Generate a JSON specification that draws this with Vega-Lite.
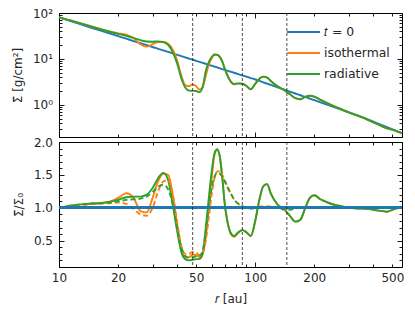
{
"$schema": "https://vega.github.io/schema/vega-lite/v6.json",
"padding": {"left": 11, "top": 7, "right": 11, "bottom": 8},
"background": "white",
"bounds": "flush",
"config": {
  "font": "DejaVu Sans",
  "view": {"stroke": null},
  "axis": {"labelFont": "DejaVu Sans", "labelFontSize": 12, "labelColor": "#262626", "titleFont": "DejaVu Sans", "titleFontSize": 12, "titleFontWeight": "normal", "titleColor": "#262626", "domainColor": "#000", "domainWidth": 1, "tickColor": "#000", "tickWidth": 0.9, "grid": false, "labelOverlap": false, "labelFlush": false},
  "line": {"strokeWidth": 1.9, "interpolate": "monotone", "clip": true}
},
"datasets": {
  "prof": [
{"r":10,"O":1.00,"G":1.00,"OD":1.00,"GD":1.00,"SO":80,"SG":80,"S":80},
{"r":12,"O":1.04,"G":1.04,"OD":1.03,"GD":1.04,"SO":65.0,"SG":65.0,"S":62.5},
{"r":14,"O":1.06,"G":1.06,"OD":1.05,"GD":1.06,"SO":53.8,"SG":53.8,"S":50.8},
{"r":16,"O":1.07,"G":1.07,"OD":1.06,"GD":1.07,"SO":45.4,"SG":45.4,"S":42.4},
{"r":18,"O":1.09,"G":1.09,"OD":1.07,"GD":1.08,"SO":39.5,"SG":39.5,"S":36.2},
{"r":20,"O":1.15,"G":1.12,"OD":1.08,"GD":1.10,"SO":36.1,"SG":35.2,"S":31.4},
{"r":22,"O":1.22,"G":1.16,"OD":1.06,"GD":1.12,"SO":33.7,"SG":32.0,"S":27.6},
{"r":24,"O":1.15,"G":1.17,"OD":0.98,"GD":1.13,"SO":28.2,"SG":28.7,"S":24.5},
{"r":26,"O":0.95,"G":1.17,"OD":0.90,"GD":1.14,"SO":20.9,"SG":25.7,"S":22.0},
{"r":28,"O":0.93,"G":1.20,"OD":0.88,"GD":1.17,"SO":18.5,"SG":23.9,"S":19.9},
{"r":30,"O":1.15,"G":1.30,"OD":1.00,"GD":1.24,"SO":20.9,"SG":23.7,"S":18.2},
{"r":32,"O":1.40,"G":1.45,"OD":1.25,"GD":1.32,"SO":23.2,"SG":24.1,"S":16.6},
{"r":34,"O":1.52,"G":1.53,"OD":1.40,"GD":1.35,"SO":23.3,"SG":23.4,"S":15.3},
{"r":36,"O":1.50,"G":1.42,"OD":1.42,"GD":1.28,"SO":21.3,"SG":20.2,"S":14.2},
{"r":38,"O":1.20,"G":1.05,"OD":1.20,"GD":1.05,"SO":15.8,"SG":13.9,"S":13.2},
{"r":40,"O":0.75,"G":0.65,"OD":0.78,"GD":0.70,"SO":9.23,"SG":8.0,"S":12.3},
{"r":42,"O":0.38,"G":0.33,"OD":0.42,"GD":0.40,"SO":4.37,"SG":3.80,"S":11.5},
{"r":44,"O":0.25,"G":0.22,"OD":0.30,"GD":0.27,"SO":2.70,"SG":2.38,"S":10.8},
{"r":46,"O":0.25,"G":0.20,"OD":0.30,"GD":0.24,"SO":2.55,"SG":2.04,"S":10.2},
{"r":48,"O":0.29,"G":0.21,"OD":0.33,"GD":0.25,"SO":2.79,"SG":2.02,"S":9.63},
{"r":50,"O":0.28,"G":0.22,"OD":0.32,"GD":0.26,"SO":2.55,"SG":2.00,"S":9.11},
{"r":52,"O":0.25,"G":0.22,"OD":0.28,"GD":0.27,"SO":2.16,"SG":1.90,"S":8.64},
{"r":54,"O":0.30,"G":0.30,"OD":0.32,"GD":0.35,"SO":2.46,"SG":2.46,"S":8.21},
{"r":56,"O":0.55,"G":0.70,"OD":0.50,"GD":0.65,"SO":4.30,"SG":5.47,"S":7.82},
{"r":58,"O":1.00,"G":1.15,"OD":0.85,"GD":1.00,"SO":7.45,"SG":8.57,"S":7.45},
{"r":60,"O":1.45,"G":1.55,"OD":1.20,"GD":1.30,"SO":10.3,"SG":11.0,"S":7.12},
{"r":62,"O":1.80,"G":1.83,"OD":1.45,"GD":1.47,"SO":12.3,"SG":12.5,"S":6.81},
{"r":64,"O":1.88,"G":1.89,"OD":1.55,"GD":1.53,"SO":12.3,"SG":12.3,"S":6.53},
{"r":66,"O":1.78,"G":1.78,"OD":1.56,"GD":1.52,"SO":11.1,"SG":11.1,"S":6.26},
{"r":68,"O":1.45,"G":1.45,"OD":1.50,"GD":1.47,"SO":8.71,"SG":8.71,"S":6.01},
{"r":70,"O":1.05,"G":1.05,"OD":1.42,"GD":1.40,"SO":6.07,"SG":6.07,"S":5.78},
{"r":72,"O":0.82,"G":0.80,"OD":1.33,"GD":1.32,"SO":4.57,"SG":4.46,"S":5.57},
{"r":75,"O":0.60,"G":0.62,"OD":1.22,"GD":1.22,"SO":3.16,"SG":3.27,"S":5.27},
{"r":78,"O":0.56,"G":0.57,"OD":1.13,"GD":1.13,"SO":2.80,"SG":2.85,"S":5.00},
{"r":82,"O":0.62,"G":0.63,"OD":1.06,"GD":1.06,"SO":2.90,"SG":2.94,"S":4.67},
{"r":86,"O":0.66,"G":0.66,"OD":1.02,"GD":1.02,"SO":2.89,"SG":2.89,"S":4.38},
{"r":90,"O":0.63,"G":0.63,"OD":1.01,"GD":1.00,"SO":2.60,"SG":2.60,"S":4.12},
{"r":95,"O":0.57,"G":0.57,"OD":1.00,"GD":0.99,"SO":2.18,"SG":2.18,"S":3.83},
{"r":100,"O":0.80,"G":0.80,"OD":1.01,"GD":0.99,"SO":2.86,"SG":2.86,"S":3.57},
{"r":105,"O":1.12,"G":1.12,"OD":1.02,"GD":1.00,"SO":3.72,"SG":3.72,"S":3.32},
{"r":110,"O":1.33,"G":1.33,"OD":1.02,"GD":1.01,"SO":4.12,"SG":4.12,"S":3.10},
{"r":115,"O":1.36,"G":1.36,"OD":1.02,"GD":1.01,"SO":3.94,"SG":3.94,"S":2.90},
{"r":120,"O":1.22,"G":1.22,"OD":1.02,"GD":1.01,"SO":3.32,"SG":3.32,"S":2.72},
{"r":130,"O":1.05,"G":1.05,"OD":1.01,"GD":1.00,"SO":2.53,"SG":2.53,"S":2.41},
{"r":140,"O":0.98,"G":0.98,"OD":0.97,"GD":0.98,"SO":2.12,"SG":2.12,"S":2.16},
{"r":150,"O":0.88,"G":0.88,"OD":0.98,"GD":0.97,"SO":1.72,"SG":1.72,"S":1.95},
{"r":160,"O":0.79,"G":0.79,"OD":1.00,"GD":0.99,"SO":1.40,"SG":1.40,"S":1.77},
{"r":170,"O":0.82,"G":0.82,"OD":1.00,"GD":1.00,"SO":1.33,"SG":1.33,"S":1.62},
{"r":180,"O":1.00,"G":1.00,"OD":1.00,"GD":1.00,"SO":1.49,"SG":1.49,"S":1.49},
{"r":190,"O":1.15,"G":1.15,"OD":1.00,"GD":1.00,"SO":1.58,"SG":1.58,"S":1.37},
{"r":200,"O":1.19,"G":1.19,"OD":1.00,"GD":1.00,"SO":1.51,"SG":1.51,"S":1.27},
{"r":215,"O":1.13,"G":1.13,"OD":1.00,"GD":1.00,"SO":1.29,"SG":1.29,"S":1.14},
{"r":230,"O":1.09,"G":1.09,"OD":1.00,"GD":1.00,"SO":1.12,"SG":1.12,"S":1.03},
{"r":250,"O":1.05,"G":1.05,"OD":1.00,"GD":1.00,"SO":0.952,"SG":0.952,"S":0.907},
{"r":270,"O":1.03,"G":1.03,"OD":1.00,"GD":1.00,"SO":0.831,"SG":0.831,"S":0.807},
{"r":300,"O":1.00,"G":1.00,"OD":1.00,"GD":1.00,"SO":0.688,"SG":0.688,"S":0.688},
{"r":330,"O":0.99,"G":0.99,"OD":1.00,"GD":1.00,"SO":0.590,"SG":0.590,"S":0.596},
{"r":370,"O":0.985,"G":0.985,"OD":1.00,"GD":1.00,"SO":0.486,"SG":0.486,"S":0.493},
{"r":420,"O":0.96,"G":0.96,"OD":1.00,"GD":1.00,"SO":0.381,"SG":0.381,"S":0.397},
{"r":470,"O":0.94,"G":0.94,"OD":1.00,"GD":1.00,"SO":0.308,"SG":0.308,"S":0.328},
{"r":520,"O":0.99,"G":0.99,"OD":1.00,"GD":1.00,"SO":0.273,"SG":0.273,"S":0.276},
{"r":560,"O":1.00,"G":1.00,"OD":1.00,"GD":1.00,"SO":0.243,"SG":0.243,"S":0.243}
  ],
  "planets": [{"r": 48}, {"r": 86}, {"r": 145}]
},
"spacing": 5,
"resolve": {"scale": {"color": "independent"}, "legend": {"color": "independent"}},
"vconcat": [
 {
  "width": 343, "height": 124,
  "data": {"name": "prof"},
  "resolve": {"axis": {"x": "independent", "y": "independent"}},
  "layer": [
   {
    "mark": {"type": "line"},
    "encoding": {
     "x": {"field": "r", "type": "quantitative", "scale": {"type": "log", "domain": [10, 560], "nice": false},
       "axis": {"orient": "bottom", "values": [10,20,30,40,50,60,70,80,90,100,200,300,400,500], "labels": false, "title": null,
         "tickSize": {"condition": {"test": "datum.value==10||datum.value==100", "value": -5}, "value": -3}}},
     "y": {"field": "S", "type": "quantitative", "scale": {"type": "log", "domain": [0.2, 100], "nice": false},
       "axis": {"orient": "left", "values": [0.2,0.3,0.4,0.5,0.6,0.7,0.8,0.9,1,2,3,4,5,6,7,8,9,10,20,30,40,50,60,70,80,90,100],
         "tickSize": {"condition": {"test": "datum.value==1||datum.value==10||datum.value==100", "value": -5}, "value": -3},
         "labelPadding": {"condition": {"test": "datum.value==1||datum.value==10||datum.value==100", "value": 11.5}, "value": 9.5},
         "labelExpr": "datum.value==100?'10\u00b2':datum.value==10?'10\u00b9':datum.value==1?'10\u2070':''",
         "title": "\u03a3\u0304 [g/cm\u00b2]", "titlePadding": 8}},
     "color": {"datum": "\ud835\udc61 = 0", "type": "nominal",
       "scale": {"domain": ["\ud835\udc61 = 0", "isothermal", "radiative"], "range": ["#1f77b4", "#ff7f0e", "#2ca02c"]},
       "legend": {"orient": "none", "legendX": 227, "legendY": 11, "title": null, "padding": 0, "symbolType": "stroke", "symbolSize": 1089, "symbolStrokeWidth": 1.9, "clipHeight": 16, "rowPadding": 5, "labelOffset": 3, "labelFont": "DejaVu Sans", "labelFontSize": 12.4, "labelColor": "#262626"}}
    }
   },
   {
    "mark": {"type": "line"},
    "encoding": {
     "x": {"field": "r", "type": "quantitative", "axis": null},
     "y": {"field": "SO", "type": "quantitative", "axis": null},
     "color": {"datum": "isothermal", "type": "nominal"}
    }
   },
   {
    "mark": {"type": "line"},
    "encoding": {
     "x": {"field": "r", "type": "quantitative", "axis": null},
     "y": {"field": "SG", "type": "quantitative", "axis": null},
     "color": {"datum": "radiative", "type": "nominal"}
    }
   },
   {
    "data": {"name": "planets"},
    "mark": {"type": "rule", "color": "#222", "strokeWidth": 0.8, "strokeDash": [3, 2]},
    "encoding": {
     "x": {"field": "r", "type": "quantitative",
       "axis": {"orient": "top", "values": [10,20,30,40,50,60,70,80,90,100,200,300,400,500], "labels": false, "title": null,
         "tickSize": {"condition": {"test": "datum.value==10||datum.value==100", "value": -5}, "value": -3}}}
    }
   },
   {
    "mark": {"type": "line", "opacity": 0},
    "encoding": {
     "x": {"field": "r", "type": "quantitative", "axis": null},
     "y": {"field": "S", "type": "quantitative",
       "axis": {"orient": "right", "values": [0.2,0.3,0.4,0.5,0.6,0.7,0.8,0.9,1,2,3,4,5,6,7,8,9,10,20,30,40,50,60,70,80,90,100], "labels": false, "title": null,
         "tickSize": {"condition": {"test": "datum.value==1||datum.value==10||datum.value==100", "value": -5}, "value": -3}}}
    }
   }
  ]
 },
 {
  "width": 343, "height": 125,
  "data": {"name": "prof"},
  "resolve": {"axis": {"x": "independent", "y": "independent"}},
  "layer": [
   {
    "mark": {"type": "line", "color": "#ff7f0e"},
    "encoding": {
     "x": {"field": "r", "type": "quantitative", "scale": {"type": "log", "domain": [10, 560], "nice": false},
       "axis": {"orient": "bottom", "values": [10,20,30,40,50,60,70,80,90,100,200,300,400,500],
         "tickSize": {"condition": {"test": "datum.value==10||datum.value==100", "value": -5}, "value": -3},
         "labelPadding": {"condition": {"test": "datum.value==10||datum.value==100", "value": 10.5}, "value": 8.5},
         "labelExpr": "indexof([10,20,50,100,200,500], datum.value) >= 0 ? '' + datum.value : ''",
         "title": "\ud835\udc5f [au]", "titlePadding": 10}},
     "y": {"field": "O", "type": "quantitative", "scale": {"domain": [0.1, 2.0], "nice": false, "zero": false},
       "axis": {"orient": "left", "values": [0.1,0.2,0.3,0.4,0.5,0.6,0.7,0.8,0.9,1,1.1,1.2,1.3,1.4,1.5,1.6,1.7,1.8,1.9,2],
         "tickSize": {"condition": {"test": "datum.value==0.5||datum.value==1||datum.value==1.5||datum.value==2", "value": -5}, "value": -3},
         "labelPadding": {"condition": {"test": "datum.value==0.5||datum.value==1||datum.value==1.5||datum.value==2", "value": 11.5}, "value": 9.5},
         "labelExpr": "(datum.value==0.5||datum.value==1||datum.value==1.5||datum.value==2) ? format(datum.value, '.1f') : ''",
         "title": "\u03a3\u0304/\u03a3\u2080", "titlePadding": 8}}
    }
   },
   {
    "mark": {"type": "line", "color": "#2ca02c"},
    "encoding": {
     "x": {"field": "r", "type": "quantitative", "axis": null},
     "y": {"field": "G", "type": "quantitative", "axis": null}
    }
   },
   {
    "mark": {"type": "line", "color": "#ff7f0e", "strokeDash": [5, 3]},
    "encoding": {
     "x": {"field": "r", "type": "quantitative", "axis": null},
     "y": {"field": "OD", "type": "quantitative", "axis": null}
    }
   },
   {
    "mark": {"type": "line", "color": "#2ca02c", "strokeDash": [5, 3]},
    "encoding": {
     "x": {"field": "r", "type": "quantitative", "axis": null},
     "y": {"field": "GD", "type": "quantitative", "axis": null}
    }
   },
   {
    "mark": {"type": "rule", "color": "#1f77b4", "strokeWidth": 1.9},
    "encoding": {
     "y": {"datum": 1, "type": "quantitative", "axis": null}
    }
   },
   {
    "data": {"name": "planets"},
    "mark": {"type": "rule", "color": "#222", "strokeWidth": 0.8, "strokeDash": [3, 2]},
    "encoding": {
     "x": {"field": "r", "type": "quantitative",
       "axis": {"orient": "top", "values": [10,20,30,40,50,60,70,80,90,100,200,300,400,500], "labels": false, "title": null,
         "tickSize": {"condition": {"test": "datum.value==10||datum.value==100", "value": -5}, "value": -3}}}
    }
   },
   {
    "mark": {"type": "line", "opacity": 0},
    "encoding": {
     "x": {"field": "r", "type": "quantitative", "axis": null},
     "y": {"field": "O", "type": "quantitative",
       "axis": {"orient": "right", "values": [0.1,0.2,0.3,0.4,0.5,0.6,0.7,0.8,0.9,1,1.1,1.2,1.3,1.4,1.5,1.6,1.7,1.8,1.9,2], "labels": false, "title": null,
         "tickSize": {"condition": {"test": "datum.value==0.5||datum.value==1||datum.value==1.5||datum.value==2", "value": -5}, "value": -3}}}
    }
   }
  ]
 }
]
}
